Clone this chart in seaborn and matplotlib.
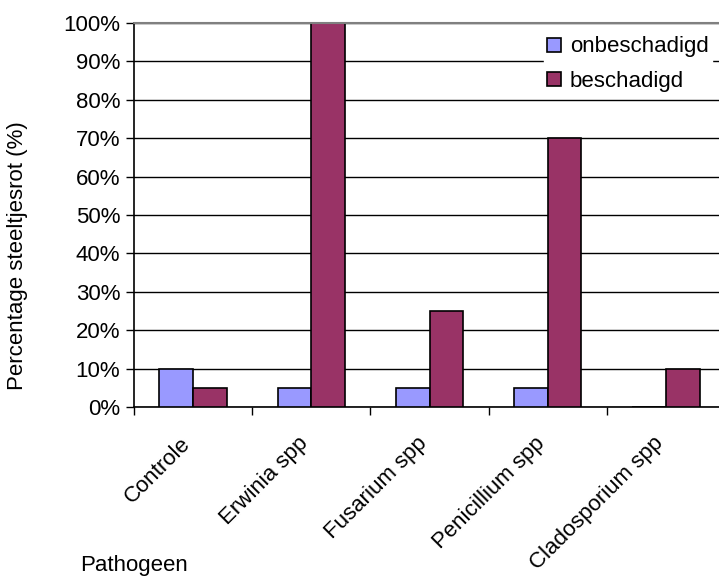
import matplotlib
matplotlib.use("Agg")
import matplotlib.pyplot as plt
from matplotlib.ticker import PercentFormatter, FixedLocator
from matplotlib.transforms import ScaledTranslation
import seaborn as sns
import pandas as pd

# data
pathogenen = ["Controle", "Erwinia spp", "Fusarium spp", "Penicillium spp", "Cladosporium spp"]
onbeschadigd = [10, 5, 5, 5, 0]
beschadigd = [5, 100, 25, 70, 10]
reeksen = ["onbeschadigd", "beschadigd"]
kleuren = ["#9999FF", "#993366"]

df = pd.DataFrame({
    "Pathogeen": pathogenen * 2,
    "conditie": [reeksen[0]] * len(pathogenen) + [reeksen[1]] * len(pathogenen),
    "pct": onbeschadigd + beschadigd,
})

sns.set_style("white")
plt.rcParams["font.family"] = ["Liberation Sans", "DejaVu Sans"]
plt.rcParams["text.color"] = "black"
plt.rcParams["axes.labelcolor"] = "black"
plt.rcParams["xtick.color"] = "black"
plt.rcParams["ytick.color"] = "black"
fs = 16

fig = plt.figure(figsize=(7.19, 5.77), dpi=100)
ax = fig.add_axes([134 / 719, 1 - 407 / 577, 591 / 719, 384 / 577])

sns.barplot(data=df, x="Pathogeen", y="pct", hue="conditie", palette=kleuren,
            saturation=1, width=0.57, edgecolor="black", linewidth=1.2, ax=ax, zorder=3)

ax.set_ylim(0, 100)
ax.set_xlim(-0.5, len(pathogenen) - 0.5)
ax.set_yticks(range(0, 101, 10))
ax.yaxis.set_major_formatter(PercentFormatter(decimals=0))
ax.grid(axis="y", color="black", linewidth=1, zorder=0)
ax.set_axisbelow(True)
# top gridline (100%) is grey and runs above the legend box
ax.axhline(100, color="#808080", linewidth=1.5, zorder=10, clip_on=False)

for s in ["top", "right"]:
    ax.spines[s].set_visible(False)
for s in ["left", "bottom"]:
    ax.spines[s].set_color("black")
    ax.spines[s].set_linewidth(1.2)

ax.tick_params(axis="y", direction="out", length=6, width=1,
               left=True, labelsize=fs, pad=4)
ax.tick_params(axis="x", which="major", length=0, labelsize=fs, pad=24)
ax.xaxis.set_minor_locator(FixedLocator([i - 0.5 for i in range(len(pathogenen) + 1)]))
ax.tick_params(axis="x", which="minor", direction="out", length=6, width=1, bottom=True)
verschuif = ScaledTranslation(-6 / 100, 0, fig.dpi_scale_trans)
for lbl in ax.get_xticklabels():
    lbl.set_rotation(45)
    lbl.set_ha("right")
    lbl.set_va("center")
    lbl.set_rotation_mode("anchor")
    lbl.set_transform(lbl.get_transform() + verschuif)

ax.set_xlabel("")
ax.set_ylabel("Percentage steeltjesrot (%)", fontsize=fs)
ax.yaxis.set_label_coords((28 - 134) / 591, (407 - 256) / 384)
fig.text(80 / 719, 1 - 571 / 577, "Pathogeen", fontsize=fs, ha="left", va="baseline")

leg = ax.legend(title=None, loc="upper left", bbox_to_anchor=(533 / 719, 1 - 22 / 577),
                bbox_transform=fig.transFigure, frameon=True, fancybox=False,
                fontsize=fs, handlelength=0.6, handleheight=0.6, handletextpad=0.4,
                labelspacing=0.6, borderpad=0.15)
leg.get_frame().set_facecolor("white")
leg.get_frame().set_edgecolor("white")
leg.get_frame().set_alpha(1)
for h in leg.legend_handles:
    h.set_edgecolor("black")

fig.savefig("out.png", dpi=100)
